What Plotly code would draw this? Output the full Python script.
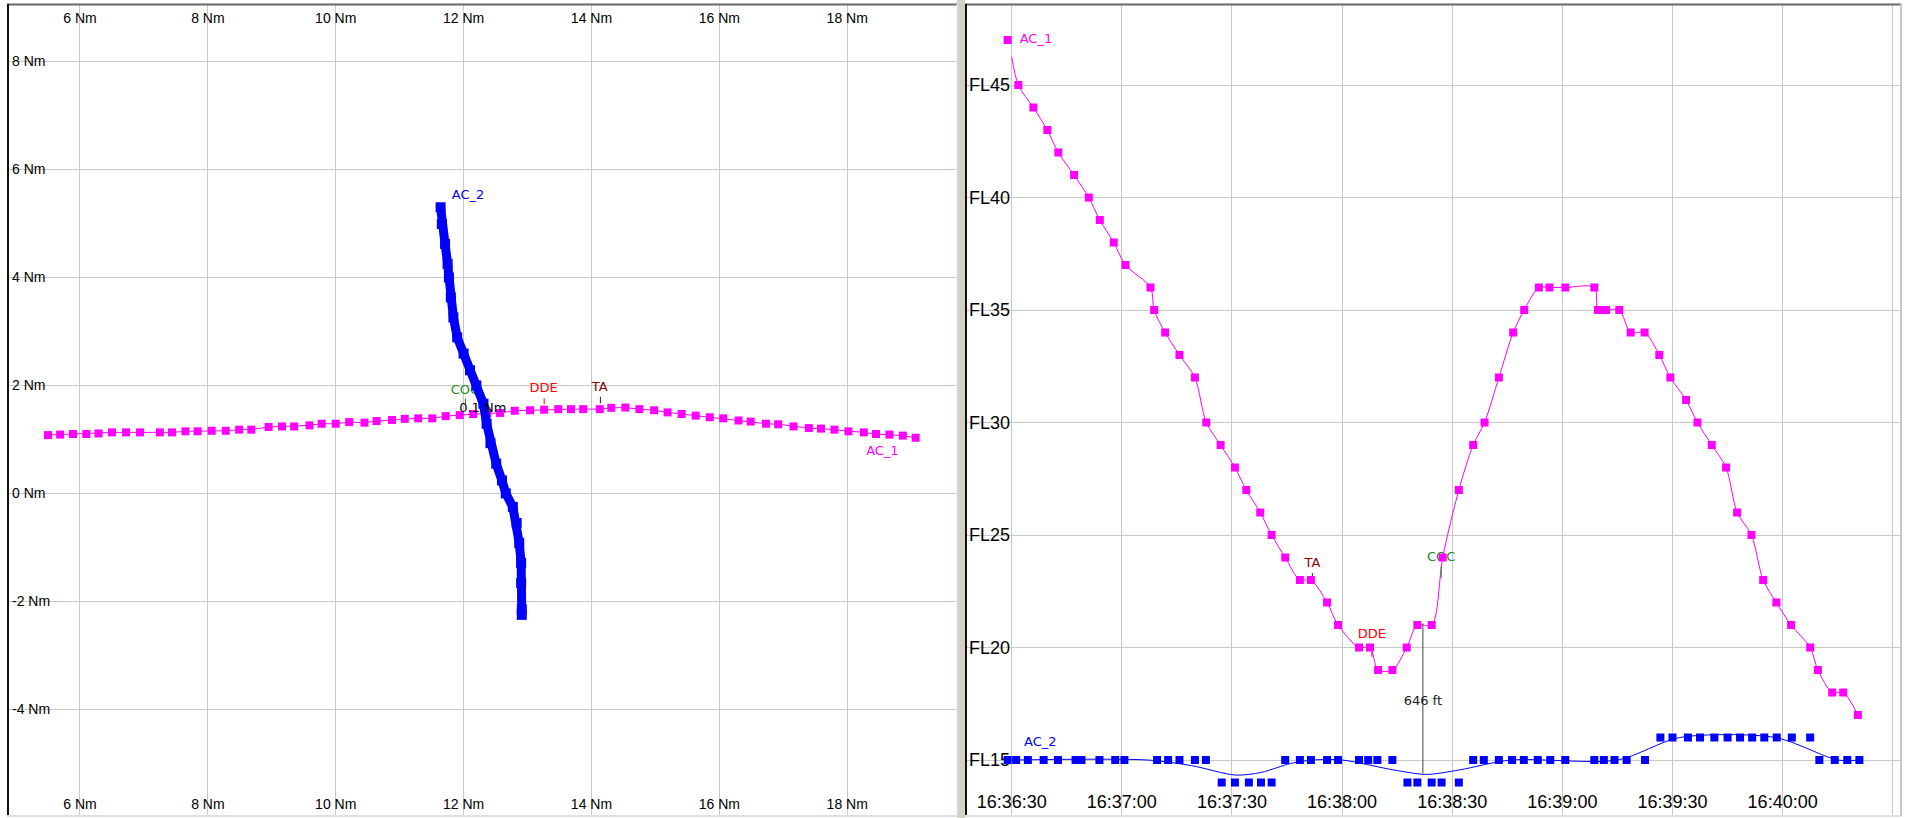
import pandas as pd
import plotly.graph_objects as go

# ---------------- Left panel: plan view (Nm) ----------------
ac1_x = [5.50, 5.69, 5.89, 6.10, 6.29, 6.50, 6.72, 6.94, 7.25, 7.44, 7.65, 7.84, 8.06, 8.28,
         8.49, 8.68, 8.95, 9.16, 9.35, 9.59, 9.78, 10.00, 10.21, 10.45, 10.64, 10.88, 11.08,
         11.29, 11.51, 11.72, 11.94, 12.15, 12.37, 12.57, 12.80, 13.04, 13.26, 13.48, 13.68,
         13.87, 14.13, 14.31, 14.53, 14.75, 14.98, 15.19, 15.41, 15.63, 15.85, 16.06, 16.30,
         16.49, 16.73, 16.92, 17.16, 17.40, 17.59, 17.80, 18.02, 18.26, 18.45, 18.66, 18.87, 19.07]
ac1_y = [1.08, 1.09, 1.10, 1.10, 1.11, 1.13, 1.13, 1.13, 1.13, 1.13, 1.15, 1.15, 1.16, 1.16,
         1.18, 1.18, 1.23, 1.24, 1.24, 1.26, 1.29, 1.29, 1.32, 1.31, 1.34, 1.36, 1.38,
         1.39, 1.39, 1.43, 1.45, 1.47, 1.48, 1.49, 1.53, 1.54, 1.55, 1.56, 1.56,
         1.56, 1.56, 1.585, 1.59, 1.56, 1.54, 1.50, 1.47, 1.44, 1.41, 1.39, 1.35,
         1.33, 1.29, 1.28, 1.24, 1.21, 1.20, 1.18, 1.15, 1.13, 1.10, 1.09, 1.07, 1.03]
ac2_x = [11.64, 11.66, 11.71, 11.75, 11.77, 11.80, 11.84, 11.90, 12.00, 12.10, 12.20, 12.31,
         12.36, 12.42, 12.51, 12.60, 12.66, 12.77, 12.83, 12.87, 12.90, 12.90, 12.91, 12.91]
ac2_y = [5.30, 4.99, 4.62, 4.25, 4.00, 3.63, 3.26, 2.89, 2.59, 2.28, 2.00, 1.66,
         1.29, 0.93, 0.55, 0.24, 0.00, -0.25, -0.55, -0.92, -1.29, -1.66, -2.15, -2.25]
nm_ticks = [6, 8, 10, 12, 14, 16, 18]
nm_labels = ["6 Nm", "8 Nm", "10 Nm", "12 Nm", "14 Nm", "16 Nm", "18 Nm"]
nm_yticks = [-4, -2, 0, 2, 4, 6, 8]
nm_ylabels = ["-4 Nm", "-2 Nm", "0 Nm", "2 Nm", "4 Nm", "6 Nm", "8 Nm"]

# events on the plan view
ev_names = ["TA", "DDE", "COC"]
ev_colors = ["#8b0000", "#ff0000", "#228b22"]
ev_plan_x = [14.13, 13.25, 12.02]
ev_plan_y = [1.96, 1.93, 1.90]
ev_plan_tick_x = [14.14, 13.26, 12.03]
ev_plan_tick_lo = [1.67, 1.65, 1.65]
ev_plan_tick_hi = [1.79, 1.76, 1.76]
plan_sep_label = "0.1 Nm"
plan_sep_pos = (12.30, 1.56)

# ---------------- Right panel: vertical profile ----------------
t0 = "2000-01-01 16:36:30"
ac1_t = [-1.1, 1.8, 5.9, 9.7, 12.7, 17.0, 21.0, 24.0, 27.8, 31.0, 37.8, 38.8, 41.8, 45.7,
         49.9, 53.0, 56.9, 60.8, 63.9, 67.7, 70.8, 74.5, 78.5, 81.5, 85.9, 88.9, 94.6,
         97.6, 99.8, 103.7, 107.6, 110.5, 114.4, 117.4, 121.8, 125.7, 128.8, 132.7, 136.6,
         139.6, 143.6, 146.5, 150.8, 158.7, 159.7, 161.9, 165.5, 168.6, 172.4, 176.4, 179.4,
         183.7, 186.8, 190.7, 194.6, 197.6, 201.5, 204.7, 208.3, 212.3, 217.5, 219.6, 223.5,
         226.5, 230.5]
ac1_fl = [47, 45, 44, 43, 42, 41, 40, 39, 38, 37, 36, 35, 34, 33,
          32, 30, 29, 28, 27, 26, 25, 24, 23, 23, 22, 21, 20,
          20, 19, 19, 20, 21, 21, 24, 27, 29, 30, 32, 34,
          35, 36, 36, 36, 36, 35, 35, 35, 34, 34, 33, 32,
          31, 30, 29, 28, 26, 25, 23, 22, 21, 20, 19, 18,
          18, 17]
ac1_line_start = (0.0, 46.25)

ac2_t = [-1.1, 1.2, 4.4, 8.7, 12.6, 17.4, 19.0, 23.9, 28.2, 30.7, 39.6, 42.6, 45.7, 49.9, 52.9,
         57.2, 60.8, 64.6, 67.9, 70.8,
         74.5, 78.5, 81.5, 85.9, 88.9, 94.6, 97.1, 99.6, 103.7,
         107.8, 110.5, 114.4, 117.1, 121.8,
         125.7, 128.6, 132.7, 136.3, 139.5, 143.3, 146.7, 150.8, 158.7, 161.3, 164.2, 167.5, 172.5,
         176.7, 180.0, 184.2, 187.5, 191.4, 195.0, 198.4, 201.7, 205.0, 208.4, 212.5, 217.5,
         220.0, 224.2, 227.6, 230.9]
ac2_fl = [15, 15, 15, 15, 15, 15, 15, 15, 15, 15, 15, 15, 15, 15, 15,
          14, 14, 14, 14, 14,
          15, 15, 15, 15, 15, 15, 15, 15, 15,
          14, 14, 14, 14, 14,
          15, 15, 15, 15, 15, 15, 15, 15, 15, 15, 15, 15, 15,
          16, 16, 16, 16, 16, 16, 16, 16, 16, 16, 16, 16,
          15, 15, 15, 15]
ac2_line_t = [0, 37, 49, 61, 68, 76, 82, 90, 104, 113, 122, 136, 165, 182, 208, 225, 231]
ac2_line_fl = [15, 15, 14.75, 14.33, 14.45, 14.85, 15, 15, 14.56, 14.36, 14.56, 15, 15, 16, 16, 15, 15]

fl_ticks = [15, 20, 25, 30, 35, 40, 45]
fl_labels = ["FL15", "FL20", "FL25", "FL30", "FL35", "FL40", "FL45"]

ev_prof_t = [81.9, 98.1, 117.0]
ev_prof_label_fl = [23.74, 20.56, 24.01]
ev_prof_tick_lo = [22.87, 19.59, 23.08]
ev_prof_tick_hi = [23.31, 19.81, 23.59]

sep_t = 112.0
sep_fl_top = 21.07
sep_fl_bottom = 14.41
sep_label = "646 ft"
sep_label_fl = 17.59

# ---------------- helpers ----------------
base = pd.Timestamp(t0)
def T(sec):
    return base + pd.to_timedelta(sec, unit="s")
def TL(seq):
    return [T(s) for s in seq]

W, H = 1910, 818
def px(x):
    return x / W
def py(y):
    return 1 - y / H

MAG = "#ff00ff"
BLU = "#0000ff"
GRID = "#c8c8c8"
SMALL = dict(family="DejaVu Sans", size=13)

fig = go.Figure()

# ---- left panel traces ----
fig.add_trace(go.Scatter(x=ac1_x, y=ac1_y, mode="lines+markers",
                         line=dict(color=MAG, width=1),
                         marker=dict(symbol="square", size=8, color=MAG),
                         xaxis="x", yaxis="y", hoverinfo="skip"))
# COC label is partly covered by the AC_2 track
fig.add_trace(go.Scatter(x=[ev_plan_x[2]], y=[ev_plan_y[2]], mode="text", text=[ev_names[2]],
                         textfont=dict(color=ev_colors[2], **SMALL), xaxis="x", yaxis="y",
                         hoverinfo="skip"))
fig.add_trace(go.Scatter(x=ac2_x, y=ac2_y, mode="lines+markers",
                         line=dict(color=BLU, width=9),
                         marker=dict(symbol="square", size=10, color=BLU),
                         xaxis="x", yaxis="y", hoverinfo="skip"))
for i in range(2):
    fig.add_trace(go.Scatter(x=[ev_plan_x[i]], y=[ev_plan_y[i]], mode="text", text=[ev_names[i]],
                             textfont=dict(color=ev_colors[i], **SMALL), xaxis="x", yaxis="y",
                             hoverinfo="skip"))
for i in range(3):
    fig.add_trace(go.Scatter(x=[ev_plan_tick_x[i], ev_plan_tick_x[i]],
                             y=[ev_plan_tick_lo[i], ev_plan_tick_hi[i]], mode="lines",
                             line=dict(color=ev_colors[i], width=1), xaxis="x", yaxis="y",
                             hoverinfo="skip"))
fig.add_trace(go.Scatter(x=[plan_sep_pos[0]], y=[plan_sep_pos[1]], mode="text", text=[plan_sep_label],
                         textfont=dict(color="black", **SMALL), xaxis="x", yaxis="y", hoverinfo="skip"))
fig.add_trace(go.Scatter(x=[ac2_x[0] + 0.43], y=[ac2_y[0] + 0.22], mode="text", text=["AC_2"],
                         textfont=dict(color=BLU, **SMALL), xaxis="x", yaxis="y", hoverinfo="skip"))
fig.add_trace(go.Scatter(x=[ac1_x[-1] - 0.52], y=[ac1_y[-1] - 0.26], mode="text", text=["AC_1"],
                         textfont=dict(color=MAG, **SMALL), xaxis="x", yaxis="y", hoverinfo="skip"))
# carrier for top tick labels
fig.add_trace(go.Scatter(x=[ac1_x[0]], y=[ac1_y[0]], mode="markers", marker=dict(opacity=0),
                         xaxis="x3", yaxis="y", hoverinfo="skip"))

# ---- right panel traces ----
fig.add_trace(go.Scatter(x=TL(ac2_line_t), y=ac2_line_fl, mode="lines",
                         line=dict(color=BLU, width=1, shape="spline", smoothing=0.8),
                         xaxis="x2", yaxis="y2", hoverinfo="skip"))
fig.add_trace(go.Scatter(x=TL([ac1_line_start[0]] + ac1_t[1:]), y=[ac1_line_start[1]] + ac1_fl[1:],
                         mode="lines", line=dict(color=MAG, width=1, shape="spline", smoothing=0.85),
                         xaxis="x2", yaxis="y2", hoverinfo="skip"))
# separation line and labels below the markers
fig.add_trace(go.Scatter(x=[T(sep_t), T(sep_t)], y=[sep_fl_top, sep_fl_bottom], mode="lines",
                         line=dict(color="#404040", width=1), xaxis="x2", yaxis="y2", hoverinfo="skip"))
fig.add_trace(go.Scatter(x=[T(sep_t)], y=[sep_label_fl], mode="text", text=[sep_label],
                         textfont=dict(color="#202020", **SMALL), xaxis="x2", yaxis="y2", hoverinfo="skip"))
for i in range(3):
    fig.add_trace(go.Scatter(x=[T(ev_prof_t[i])], y=[ev_prof_label_fl[i]], mode="text", text=[ev_names[i]],
                             textfont=dict(color=ev_colors[i], **SMALL), xaxis="x2", yaxis="y2",
                             hoverinfo="skip"))
    fig.add_trace(go.Scatter(x=[T(ev_prof_t[i]), T(ev_prof_t[i])],
                             y=[ev_prof_tick_lo[i], ev_prof_tick_hi[i]], mode="lines",
                             line=dict(color=ev_colors[i], width=1), xaxis="x2", yaxis="y2",
                             hoverinfo="skip"))
fig.add_trace(go.Scatter(x=TL(ac2_t), y=ac2_fl, mode="markers",
                         marker=dict(symbol="square", size=8, color=BLU),
                         xaxis="x2", yaxis="y2", hoverinfo="skip"))
fig.add_trace(go.Scatter(x=TL(ac1_t), y=ac1_fl, mode="markers",
                         marker=dict(symbol="square", size=8, color=MAG),
                         xaxis="x2", yaxis="y2", hoverinfo="skip"))
fig.add_trace(go.Scatter(x=[T(ac1_t[0] + 7.7)], y=[ac1_fl[0]], mode="text", text=["AC_1"],
                         textfont=dict(color=MAG, **SMALL), xaxis="x2", yaxis="y2", hoverinfo="skip"))
fig.add_trace(go.Scatter(x=[T(ac2_t[1] + 6.6)], y=[ac2_fl[1] + 0.75], mode="text", text=["AC_2"],
                         textfont=dict(color=BLU, **SMALL), xaxis="x2", yaxis="y2", hoverinfo="skip"))

# ---------------- layout ----------------
ydom = [py(815), py(5)]
tickfont_left = dict(family="Liberation Sans", size=14, color="black")
tickfont_right = dict(family="Liberation Sans", size=18, color="black")
common = dict(showgrid=True, gridcolor=GRID, gridwidth=1, zeroline=False, showline=False,
              ticks="", ticklabelposition="inside", fixedrange=True)

fig.update_layout(
    width=W, height=H, margin=dict(l=0, r=0, t=0, b=0, pad=0),
    paper_bgcolor="white", plot_bgcolor="white", showlegend=False,
    xaxis=dict(domain=[px(9), px(957)], range=[4.890, 19.717], tickvals=nm_ticks, ticktext=nm_labels,
               side="bottom", anchor="y", tickfont=tickfont_left, **common),
    xaxis3=dict(overlaying="x", range=[4.890, 19.717], tickvals=nm_ticks, ticktext=nm_labels,
                side="top", anchor="y", tickfont=tickfont_left, showgrid=False, zeroline=False,
                showline=False, ticks="", ticklabelposition="inside", ticklabelstandoff=5,
                fixedrange=True),
    yaxis=dict(domain=ydom, range=[-5.957, 9.046], tickvals=nm_yticks, ticktext=nm_ylabels,
               anchor="x", tickfont=tickfont_left, **common),
    xaxis2=dict(domain=[px(966), px(1900)], type="date", range=[T(-12.45), T(241.97)],
                tick0=t0, dtick=30000, tickformat="%H:%M:%S", anchor="y2",
                tickfont=tickfont_right, ticklabeloverflow="hide past div", **common),
    yaxis2=dict(domain=ydom, range=[12.556, 48.556], tickvals=fl_ticks, ticktext=fl_labels,
                anchor="x2", tickfont=tickfont_right, layer="below traces", **common),
)

# panel frames (sunken look) and separator
shapes = []
def hline(x0, x1, y, color, w):
    shapes.append(dict(type="line", xref="paper", yref="paper", x0=px(x0), x1=px(x1), y0=py(y), y1=py(y),
                       line=dict(color=color, width=w), layer="above"))
def vline(x, y0, y1, color, w):
    shapes.append(dict(type="line", xref="paper", yref="paper", x0=px(x), x1=px(x), y0=py(y0), y1=py(y1),
                       line=dict(color=color, width=w), layer="above"))
shapes.append(dict(type="rect", xref="paper", yref="paper", x0=px(957), x1=px(965), y0=0, y1=1,
                   fillcolor="#d4d0c8", line=dict(width=0), layer="above"))
hline(7, 957, 4.5, "#696969", 2)
vline(8, 4, 816, "#101010", 2)
hline(7, 957, 816, "#e0e0e0", 2)
vline(957, 4, 816, "#e8e8e8", 1)
hline(965, 1901, 4.5, "#696969", 2)
vline(966, 4, 816, "#101010", 2)
hline(965, 1901, 816, "#e0e0e0", 2)
vline(1901, 4, 816, "#c8c8c8", 2)
fig.update_layout(shapes=shapes)

fig.write_html("out.html", include_plotlyjs=True, config={"displayModeBar": False},
               post_script="document.body.style.margin='0';document.body.style.overflow='hidden';")
